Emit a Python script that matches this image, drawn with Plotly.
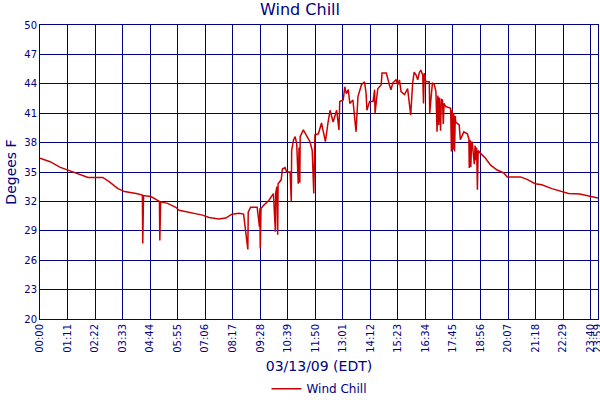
#!/usr/bin/env python3
"""Wind chill for 03/13/09, one day of readings, drawn as a Plotly line chart."""

import plotly.graph_objects as go

# minutes after midnight (EDT) and wind chill in deg F
minutes = [
    0, 26, 51, 73, 98, 124, 162, 179, 201, 218, 248, 264, 265, 266, 267,
    286, 308, 309, 310, 311, 329, 350, 359, 384, 419, 436, 461, 479, 495,
    513, 525, 536, 537, 543, 560, 566, 567, 568, 569, 570, 577, 590, 602,
    607, 608, 611, 613, 614, 622, 625, 632, 636, 645, 648, 649, 654, 658,
    662, 666, 668, 670, 671, 679, 688, 696, 702, 706, 709, 718, 726, 736,
    743, 748, 756, 765, 771, 773, 782, 786, 790, 795, 799, 807, 815, 820,
    829, 837, 841, 843, 850, 859, 863, 864, 871, 880, 882, 893, 901, 905,
    910, 918, 923, 927, 931, 940, 948, 956, 961, 965, 970, 974, 978, 982,
    987, 989, 991, 995, 1004, 1005, 1012, 1017, 1021, 1024, 1026, 1028,
    1030, 1033, 1035, 1038, 1040, 1042, 1046, 1059, 1061, 1063, 1065, 1067,
    1069, 1071, 1072, 1081, 1084, 1093, 1102, 1106, 1107, 1109, 1111, 1113,
    1115, 1120, 1122, 1124, 1126, 1128, 1130, 1136, 1149, 1162, 1179, 1196,
    1205, 1239, 1256, 1277, 1294, 1320, 1350, 1363, 1392, 1418, 1430, 1439,
]
wind_chill = [
    36.4, 36.05, 35.5, 35.2, 34.8, 34.45, 34.45, 34.0, 33.3, 33.0, 32.8,
    32.65, 27.7, 30.3, 32.6, 32.5, 32.0, 28.0, 30.1, 31.95, 31.8, 31.4,
    31.1, 30.9, 30.6, 30.35, 30.2, 30.3, 30.7, 30.8, 30.7, 27.1, 30.9,
    31.4, 31.4, 29.4, 31.3, 27.2, 29.5, 31.3, 31.6, 32.1, 32.8, 28.9, 32.9,
    33.5, 28.6, 33.8, 34.2, 35.3, 35.45, 35.0, 35.0, 32.0, 37.2, 38.3, 38.6,
    37.9, 33.8, 37.5, 33.9, 38.6, 39.3, 38.6, 38.1, 37.2, 32.8, 38.8, 38.9,
    40.0, 38.1, 40.1, 41.3, 40.1, 41.3, 39.3, 42.2, 42.35, 43.7, 43.0, 43.4,
    42.0, 42.35, 39.1, 42.7, 43.9, 44.2, 43.0, 41.3, 42.2, 42.2, 43.4, 41.0,
    43.5, 43.9, 45.1, 45.1, 43.9, 43.4, 44.1, 44.4, 43.9, 44.4, 43.2, 42.9,
    43.5, 40.8, 44.1, 45.2, 44.9, 44.4, 45.1, 45.4, 44.9, 42.0, 45.1, 44.2,
    44.2, 41.0, 44.1, 43.9, 43.2, 39.1, 42.8, 39.8, 42.6, 39.2, 42.4, 42.35,
    39.9, 42.0, 41.7, 41.5, 37.1, 41.3, 37.3, 41.0, 37.1, 40.7, 40.1, 39.8,
    38.3, 39.1, 38.9, 38.4, 35.4, 38.3, 35.5, 38.1, 37.9, 35.8, 37.7, 36.2,
    37.5, 33.2, 37.2, 36.9, 36.4, 35.7, 35.2, 34.9, 34.5, 34.5, 34.25, 33.8,
    33.7, 33.3, 33.0, 32.8, 32.75, 32.55, 32.4, 32.35,
]

tick_minutes = [0, 71, 142, 213, 284, 355, 426, 497, 568, 639, 710, 781,
                852, 923, 994, 1065, 1136, 1207, 1278, 1349, 1420, 1439]
tick_labels = ["00:00", "01:11", "02:22", "03:33", "04:44", "05:55", "07:06",
               "08:17", "09:28", "10:39", "11:50", "13:01", "14:12", "15:23",
               "16:34", "17:45", "18:56", "20:07", "21:18", "22:29", "23:40",
               "23:59"]
y_ticks = [20, 23, 26, 29, 32, 35, 38, 41, 44, 47, 50]

NAVY = "#000080"

fig = go.Figure(go.Scatter(
    x=minutes, y=wind_chill, mode="lines", name="Wind Chill",
    line=dict(color="#CC0000", width=1.5),
))

fig.update_layout(
    width=600, height=400, autosize=False,
    margin=dict(l=40, r=2, t=25, b=81),
    paper_bgcolor="white", plot_bgcolor="white",
    font=dict(family="DejaVu Sans", color=NAVY, size=11),
    title=dict(text="Wind Chill", x=0.5, xanchor="center", y=0.99,
               yanchor="top", font=dict(size=16, color=NAVY)),
    showlegend=True,
    # legend placed on the container so it does not push the bottom margin
    legend=dict(orientation="h", x=0.5, xanchor="center",
                yref="container", y=0.028, yanchor="middle",
                font=dict(size=12, color=NAVY)),
)
fig.update_xaxes(
    range=[0, 1439], tickvals=tick_minutes, ticktext=tick_labels,
    tickangle=-90, tickfont=dict(size=10, color=NAVY),
    ticklabeloverflow="allow", automargin=False,
    showgrid=True, gridcolor=NAVY, gridwidth=1,
    showline=True, linecolor=NAVY, mirror=True, zeroline=False,
    ticks="", title=dict(text="03/13/09 (EDT)", font=dict(size=14, color=NAVY),
                         standoff=10),
)
fig.update_yaxes(
    range=[20, 50], tickvals=y_ticks, automargin=False,
    tickfont=dict(size=10, color=NAVY),
    showgrid=True, gridcolor=NAVY, gridwidth=1,
    showline=True, linecolor=NAVY, mirror=True, zeroline=False,
    ticks="", title=dict(text="Degees F", font=dict(size=14, color=NAVY),
                         standoff=4),
)

# keep the page exactly the figure's size so nothing gets shifted or scaled
page_fix = (
    "document.body.style.margin = '0';"
    "document.body.style.height = '400px';"
    "document.body.style.overflow = 'hidden';"
    "document.documentElement.style.overflow = 'hidden';"
)
fig.write_html("out.html",
               config={"displayModeBar": False, "responsive": False},
               post_script=page_fix)
